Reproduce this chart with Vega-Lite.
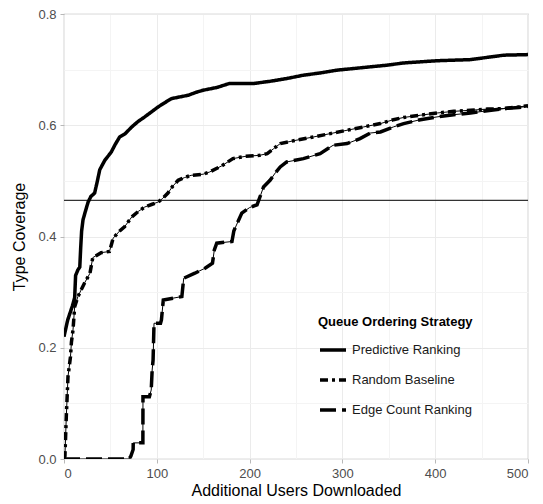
{
  "$schema": "https://vega.github.io/schema/vega-lite/v6.json",
  "width": 464,
  "height": 445,
  "autosize": "none",
  "padding": {"left": 64, "top": 14, "right": 15, "bottom": 45},
  "config": {
    "view": {"stroke": "#b8b8b8", "strokeWidth": 1.2},
    "font": "Liberation Sans",
    "axis": {"domain": false, "tickColor": "#b8b8b8", "tickSize": 4, "labelColor": "#4d4d4d", "labelFontSize": 13, "titleFontSize": 16, "titleFontWeight": "normal", "titleColor": "#000000"}
  },
  "datasets": {
    "curves": [
      {"x":0,"y":0.22,"s":"Predictive Ranking"},{"x":2,"y":0.235,"s":"Predictive Ranking"},{"x":4,"y":0.25,"s":"Predictive Ranking"},{"x":6,"y":0.26,"s":"Predictive Ranking"},{"x":9,"y":0.275,"s":"Predictive Ranking"},{"x":11.5,"y":0.29,"s":"Predictive Ranking"},{"x":12.5,"y":0.33,"s":"Predictive Ranking"},{"x":15,"y":0.34,"s":"Predictive Ranking"},{"x":17,"y":0.345,"s":"Predictive Ranking"},{"x":18,"y":0.38,"s":"Predictive Ranking"},{"x":19,"y":0.41,"s":"Predictive Ranking"},{"x":20.5,"y":0.43,"s":"Predictive Ranking"},{"x":23,"y":0.445,"s":"Predictive Ranking"},{"x":26,"y":0.462,"s":"Predictive Ranking"},{"x":29,"y":0.472,"s":"Predictive Ranking"},{"x":33,"y":0.478,"s":"Predictive Ranking"},{"x":36,"y":0.5,"s":"Predictive Ranking"},{"x":38.5,"y":0.52,"s":"Predictive Ranking"},{"x":44,"y":0.537,"s":"Predictive Ranking"},{"x":51,"y":0.552,"s":"Predictive Ranking"},{"x":55,"y":0.565,"s":"Predictive Ranking"},{"x":60,"y":0.579,"s":"Predictive Ranking"},{"x":66,"y":0.585,"s":"Predictive Ranking"},{"x":73,"y":0.597,"s":"Predictive Ranking"},{"x":80,"y":0.607,"s":"Predictive Ranking"},{"x":87,"y":0.615,"s":"Predictive Ranking"},{"x":95,"y":0.625,"s":"Predictive Ranking"},{"x":101.5,"y":0.633,"s":"Predictive Ranking"},{"x":108,"y":0.64,"s":"Predictive Ranking"},{"x":116,"y":0.648,"s":"Predictive Ranking"},{"x":125,"y":0.651,"s":"Predictive Ranking"},{"x":134,"y":0.654,"s":"Predictive Ranking"},{"x":142,"y":0.659,"s":"Predictive Ranking"},{"x":150,"y":0.663,"s":"Predictive Ranking"},{"x":165,"y":0.668,"s":"Predictive Ranking"},{"x":178,"y":0.675,"s":"Predictive Ranking"},{"x":190,"y":0.675,"s":"Predictive Ranking"},{"x":204,"y":0.675,"s":"Predictive Ranking"},{"x":222,"y":0.679,"s":"Predictive Ranking"},{"x":240,"y":0.684,"s":"Predictive Ranking"},{"x":258,"y":0.69,"s":"Predictive Ranking"},{"x":276,"y":0.694,"s":"Predictive Ranking"},{"x":294,"y":0.699,"s":"Predictive Ranking"},{"x":312,"y":0.702,"s":"Predictive Ranking"},{"x":330,"y":0.705,"s":"Predictive Ranking"},{"x":348,"y":0.708,"s":"Predictive Ranking"},{"x":366,"y":0.712,"s":"Predictive Ranking"},{"x":384,"y":0.714,"s":"Predictive Ranking"},{"x":402,"y":0.716,"s":"Predictive Ranking"},{"x":420,"y":0.717,"s":"Predictive Ranking"},{"x":438,"y":0.718,"s":"Predictive Ranking"},{"x":456,"y":0.722,"s":"Predictive Ranking"},{"x":474,"y":0.726,"s":"Predictive Ranking"},{"x":500,"y":0.727,"s":"Predictive Ranking"},
      {"x":0,"y":0,"s":"Random Baseline"},{"x":1,"y":0.005,"s":"Random Baseline"},{"x":2.5,"y":0.077,"s":"Random Baseline"},{"x":4.3,"y":0.148,"s":"Random Baseline"},{"x":7,"y":0.184,"s":"Random Baseline"},{"x":8,"y":0.21,"s":"Random Baseline"},{"x":9.7,"y":0.232,"s":"Random Baseline"},{"x":11.5,"y":0.274,"s":"Random Baseline"},{"x":15,"y":0.292,"s":"Random Baseline"},{"x":22,"y":0.316,"s":"Random Baseline"},{"x":28,"y":0.334,"s":"Random Baseline"},{"x":31,"y":0.362,"s":"Random Baseline"},{"x":40,"y":0.371,"s":"Random Baseline"},{"x":49,"y":0.373,"s":"Random Baseline"},{"x":53,"y":0.397,"s":"Random Baseline"},{"x":60,"y":0.41,"s":"Random Baseline"},{"x":65.5,"y":0.418,"s":"Random Baseline"},{"x":73,"y":0.435,"s":"Random Baseline"},{"x":80,"y":0.445,"s":"Random Baseline"},{"x":87,"y":0.453,"s":"Random Baseline"},{"x":95,"y":0.458,"s":"Random Baseline"},{"x":101.5,"y":0.462,"s":"Random Baseline"},{"x":106,"y":0.468,"s":"Random Baseline"},{"x":112,"y":0.478,"s":"Random Baseline"},{"x":117,"y":0.49,"s":"Random Baseline"},{"x":123,"y":0.501,"s":"Random Baseline"},{"x":130,"y":0.506,"s":"Random Baseline"},{"x":137,"y":0.51,"s":"Random Baseline"},{"x":150,"y":0.512,"s":"Random Baseline"},{"x":157,"y":0.516,"s":"Random Baseline"},{"x":170,"y":0.527,"s":"Random Baseline"},{"x":182,"y":0.54,"s":"Random Baseline"},{"x":195,"y":0.544,"s":"Random Baseline"},{"x":211,"y":0.546,"s":"Random Baseline"},{"x":219,"y":0.549,"s":"Random Baseline"},{"x":226,"y":0.558,"s":"Random Baseline"},{"x":233,"y":0.567,"s":"Random Baseline"},{"x":250,"y":0.573,"s":"Random Baseline"},{"x":269,"y":0.579,"s":"Random Baseline"},{"x":287,"y":0.585,"s":"Random Baseline"},{"x":305,"y":0.591,"s":"Random Baseline"},{"x":323,"y":0.597,"s":"Random Baseline"},{"x":341,"y":0.603,"s":"Random Baseline"},{"x":355,"y":0.61,"s":"Random Baseline"},{"x":366,"y":0.614,"s":"Random Baseline"},{"x":384,"y":0.618,"s":"Random Baseline"},{"x":402,"y":0.622,"s":"Random Baseline"},{"x":420,"y":0.625,"s":"Random Baseline"},{"x":438,"y":0.627,"s":"Random Baseline"},{"x":456,"y":0.629,"s":"Random Baseline"},{"x":474,"y":0.63,"s":"Random Baseline"},{"x":490,"y":0.633,"s":"Random Baseline"},{"x":500,"y":0.635,"s":"Random Baseline"},
      {"x":0,"y":0,"s":"Edge Count Ranking"},{"x":70,"y":0,"s":"Edge Count Ranking"},{"x":72,"y":0.005,"s":"Edge Count Ranking"},{"x":74.5,"y":0.017,"s":"Edge Count Ranking"},{"x":74.6,"y":0.029,"s":"Edge Count Ranking"},{"x":85,"y":0.029,"s":"Edge Count Ranking"},{"x":85.1,"y":0.112,"s":"Edge Count Ranking"},{"x":92,"y":0.112,"s":"Edge Count Ranking"},{"x":94,"y":0.124,"s":"Edge Count Ranking"},{"x":95,"y":0.16,"s":"Edge Count Ranking"},{"x":96,"y":0.178,"s":"Edge Count Ranking"},{"x":97,"y":0.244,"s":"Edge Count Ranking"},{"x":104,"y":0.244,"s":"Edge Count Ranking"},{"x":105,"y":0.25,"s":"Edge Count Ranking"},{"x":107,"y":0.286,"s":"Edge Count Ranking"},{"x":127,"y":0.292,"s":"Edge Count Ranking"},{"x":129,"y":0.325,"s":"Edge Count Ranking"},{"x":141,"y":0.334,"s":"Edge Count Ranking"},{"x":152,"y":0.343,"s":"Edge Count Ranking"},{"x":160,"y":0.352,"s":"Edge Count Ranking"},{"x":162,"y":0.376,"s":"Edge Count Ranking"},{"x":164.6,"y":0.388,"s":"Edge Count Ranking"},{"x":181,"y":0.391,"s":"Edge Count Ranking"},{"x":183,"y":0.41,"s":"Edge Count Ranking"},{"x":191.6,"y":0.442,"s":"Edge Count Ranking"},{"x":200,"y":0.452,"s":"Edge Count Ranking"},{"x":208,"y":0.457,"s":"Edge Count Ranking"},{"x":212,"y":0.475,"s":"Edge Count Ranking"},{"x":215,"y":0.489,"s":"Edge Count Ranking"},{"x":222,"y":0.501,"s":"Edge Count Ranking"},{"x":228,"y":0.515,"s":"Edge Count Ranking"},{"x":233,"y":0.525,"s":"Edge Count Ranking"},{"x":240,"y":0.534,"s":"Edge Count Ranking"},{"x":258,"y":0.54,"s":"Edge Count Ranking"},{"x":276,"y":0.549,"s":"Edge Count Ranking"},{"x":290,"y":0.564,"s":"Edge Count Ranking"},{"x":305,"y":0.567,"s":"Edge Count Ranking"},{"x":319,"y":0.576,"s":"Edge Count Ranking"},{"x":330,"y":0.586,"s":"Edge Count Ranking"},{"x":341,"y":0.588,"s":"Edge Count Ranking"},{"x":355,"y":0.597,"s":"Edge Count Ranking"},{"x":366,"y":0.603,"s":"Edge Count Ranking"},{"x":384,"y":0.61,"s":"Edge Count Ranking"},{"x":402,"y":0.615,"s":"Edge Count Ranking"},{"x":420,"y":0.619,"s":"Edge Count Ranking"},{"x":438,"y":0.622,"s":"Edge Count Ranking"},{"x":456,"y":0.626,"s":"Edge Count Ranking"},{"x":474,"y":0.63,"s":"Edge Count Ranking"},{"x":490,"y":0.632,"s":"Edge Count Ranking"},{"x":500,"y":0.634,"s":"Edge Count Ranking"}
    ],
    "ref": [{"y": 0.465}]
  },
  "layer": [
    {
      "data": {"name": "curves"},
      "mark": {"type": "line", "color": "black", "strokeWidth": 1, "clip": true},
      "encoding": {
        "x": {"field": "x", "type": "quantitative", "scale": {"domain": [0, 500], "nice": false},
          "title": "Additional Users Downloaded",
          "axis": {"values": [0,50,100,150,200,250,300,350,400,450,500], "labelExpr": "datum.value % 100 === 0 ? datum.label : ''",
            "tickOpacity": {"condition": {"test": "datum.value % 100 !== 0", "value": 0}, "value": 1},
            "gridColor": {"condition": {"test": "datum.value % 100 !== 0", "value": "#f4f4f4"}, "value": "#ebebeb"},
            "labelPadding": 4, "titlePadding": 2}},
        "y": {"field": "y", "type": "quantitative", "scale": {"domain": [0, 0.8], "nice": false},
          "title": "Type Coverage",
          "axis": {"values": [0,0.1,0.2,0.3,0.4,0.5,0.6,0.7,0.8], "format": ".1f", "labelExpr": "round(datum.value*10) % 2 === 0 ? datum.label : ''",
            "tickOpacity": {"condition": {"test": "round(datum.value*10) % 2 !== 0", "value": 0}, "value": 1},
            "gridColor": {"condition": {"test": "round(datum.value*10) % 2 !== 0", "value": "#f4f4f4"}, "value": "#ebebeb"},
            "labelPadding": 4, "titlePadding": 10}},
        "detail": {"field": "s"}
      }
    },
    {
      "data": {"name": "ref"},
      "mark": {"type": "rule", "color": "#333333", "strokeWidth": 1.2},
      "encoding": {"y": {"field": "y", "type": "quantitative"}}
    },
    {
      "data": {"name": "curves"},
      "mark": {"type": "line", "color": "black", "strokeWidth": 3.5, "clip": true, "strokeCap": "butt"},
      "encoding": {
        "x": {"field": "x", "type": "quantitative"},
        "y": {"field": "y", "type": "quantitative"},
        "strokeDash": {"field": "s", "type": "nominal",
          "scale": {"domain": ["Predictive Ranking", "Random Baseline", "Edge Count Ranking"], "range": [[1, 0], [8, 4, 3, 4], [16, 6]]},
          "legend": {"title": "Queue Ordering Strategy", "orient": "none", "legendX": 254, "legendY": 302,
            "titleFontSize": 13, "titleFontWeight": "bold", "titleColor": "black", "titlePadding": 6,
            "labelFontSize": 13, "labelColor": "#1a1a1a", "symbolType": "stroke", "symbolSize": 676,
            "symbolStrokeWidth": 3.5, "symbolStrokeColor": "black", "rowPadding": 8, "labelOffset": 4}}
      }
    }
  ]
}
